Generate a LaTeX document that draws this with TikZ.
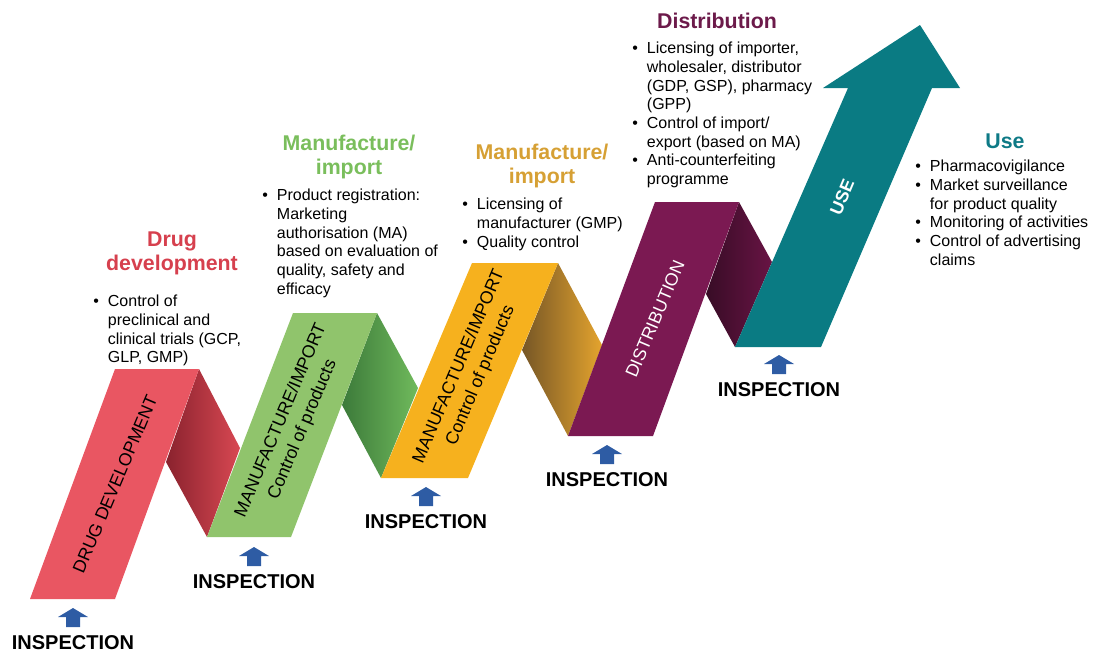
\documentclass[tikz,border=0pt]{standalone}
\usepackage{fontspec}
\setmainfont{Liberation Sans}
\usepackage{xcolor}
\definecolor{drugred}{RGB}{233,86,98}
\definecolor{drugdark}{RGB}{138,34,46}
\definecolor{drugmid}{RGB}{216,72,82}
\definecolor{mfgreen}{RGB}{144,196,108}
\definecolor{mfdark}{RGB}{60,122,58}
\definecolor{mfmid}{RGB}{112,186,92}
\definecolor{imorange}{RGB}{246,177,30}
\definecolor{imdark}{RGB}{118,86,38}
\definecolor{immid}{RGB}{228,164,46}
\definecolor{distpurple}{RGB}{123,25,82}
\definecolor{distdark}{RGB}{56,12,38}
\definecolor{distmid}{RGB}{104,20,68}
\definecolor{useteal}{RGB}{10,123,131}
\definecolor{insblue}{RGB}{46,92,164}
\definecolor{hdred}{RGB}{214,64,78}
\definecolor{hdgreen}{RGB}{122,190,92}
\definecolor{hdorange}{RGB}{214,160,52}
\definecolor{hdpurple}{RGB}{108,26,74}
\definecolor{hdteal}{RGB}{14,122,134}
\newcommand{\bul}{\makebox[11pt][l]{\textbullet}}
\newcommand{\ind}{\hspace*{11pt}}
\begin{document}
\begin{tikzpicture}[x=0.75pt,y=-0.75pt,
    bandtext/.style={font=\fontsize{13.3}{17.5}\selectfont, align=center, rotate=67, inner sep=0pt},
    heading/.style={font=\fontsize{16}{17.5}\selectfont\bfseries, align=center, anchor=north, inner sep=0pt},
    bullets/.style={font=\fontsize{12}{14}\selectfont, align=left, anchor=north west, inner sep=0pt},
    insp/.style={font=\fontsize{15}{18}\selectfont\bfseries, inner sep=0pt}]
  \useasboundingbox (0,0) rectangle (1094,653);
  % folds between the bands
  \shade[left color=drugdark, right color=drugmid] (199,369) -- (240,448) -- (207,537) -- (166,462) -- cycle;
  \shade[left color=mfdark, right color=mfmid] (377,313) -- (418,388) -- (381,478) -- (342,405) -- cycle;
  \shade[left color=imdark, right color=immid] (558,263) -- (602,345) -- (568,436) -- (522,350) -- cycle;
  \shade[left color=distdark, right color=distmid] (739,202) -- (772,262) -- (735,347) -- (706,294) -- cycle;
  % bands
  \fill[drugred] (30,599) -- (115,599) -- (199,369) -- (115,369) -- cycle;
  \fill[mfgreen] (207,537) -- (291,537) -- (377,313) -- (293,313) -- cycle;
  \fill[imorange] (381,478) -- (468,478) -- (558,263) -- (472,263) -- cycle;
  \fill[distpurple] (568,436) -- (653,436) -- (739,202) -- (655,202) -- cycle;
  \fill[useteal] (735,347) -- (821,347) -- (932,88) -- (960,88) -- (920,25) -- (823,88) -- (848,88) -- cycle;
  \node[bandtext] (drug-band) at (115,484) {DRUG DEVELOPMENT};
  \node[bandtext] (mf-band) at (292,425) {MANUFACTURE/IMPORT\\Control of products};
  \node[bandtext] (im-band) at (470,371) {MANUFACTURE/IMPORT\\Control of products};
  \node[bandtext, text=white] (dist-band) at (655,319) {DISTRIBUTION};
  \node[bandtext, text=white, font=\fontsize{13.3}{16}\selectfont\bfseries] (use-band) at (842,197) {USE};
  % headings and lists
  \node[heading, text=hdred] (drug-head) at (172,232) {Drug\\development};
  \node[bullets] (drug-list) at (93,295) {\bul Control of\\ \ind preclinical and\\ \ind clinical trials (GCP,\\ \ind GLP, GMP)};
  \node[heading, text=hdgreen] (mf-head) at (349,135) {Manufacture/\\import};
  \node[bullets] (mf-list) at (262,189) {\bul Product registration:\\ \ind Marketing\\ \ind authorisation (MA)\\ \ind based on evaluation of\\ \ind quality, safety and\\ \ind efficacy};
  \node[heading, text=hdorange] (im-head) at (542,144) {Manufacture/\\import};
  \node[bullets] (im-list) at (462,198) {\bul Licensing of\\ \ind manufacturer (GMP)\\ \bul Quality control};
  \node[heading, text=hdpurple] (dist-head) at (717,13) {Distribution};
  \node[bullets] (dist-list) at (632,42) {\bul Licensing of importer,\\ \ind wholesaler, distributor\\ \ind (GDP, GSP), pharmacy\\ \ind (GPP)\\ \bul Control of import/\\ \ind export (based on MA)\\ \bul Anti-counterfeiting\\ \ind programme};
  \node[heading, text=hdteal] (use-head) at (1005,134) {Use};
  \node[bullets] (use-list) at (915,160) {\bul Pharmacovigilance\\ \bul Market surveillance\\ \ind for product quality\\ \bul Monitoring of activities\\ \bul Control of advertising\\ \ind claims};
  % inspection points
  \foreach \x/\y [count=\i] in {73/608, 254/547, 426/487, 607/445, 779/355}{
    \fill[insblue] (\x-15,\y+9) -- (\x,\y) -- (\x+15,\y+9) -- (\x+7,\y+9) -- (\x+7,\y+19) -- (\x-7,\y+19) -- (\x-7,\y+9) -- cycle;
    \node[insp] (insp-\i) at (\x,\y+35) {INSPECTION};
  }
\end{tikzpicture}
\end{document}
